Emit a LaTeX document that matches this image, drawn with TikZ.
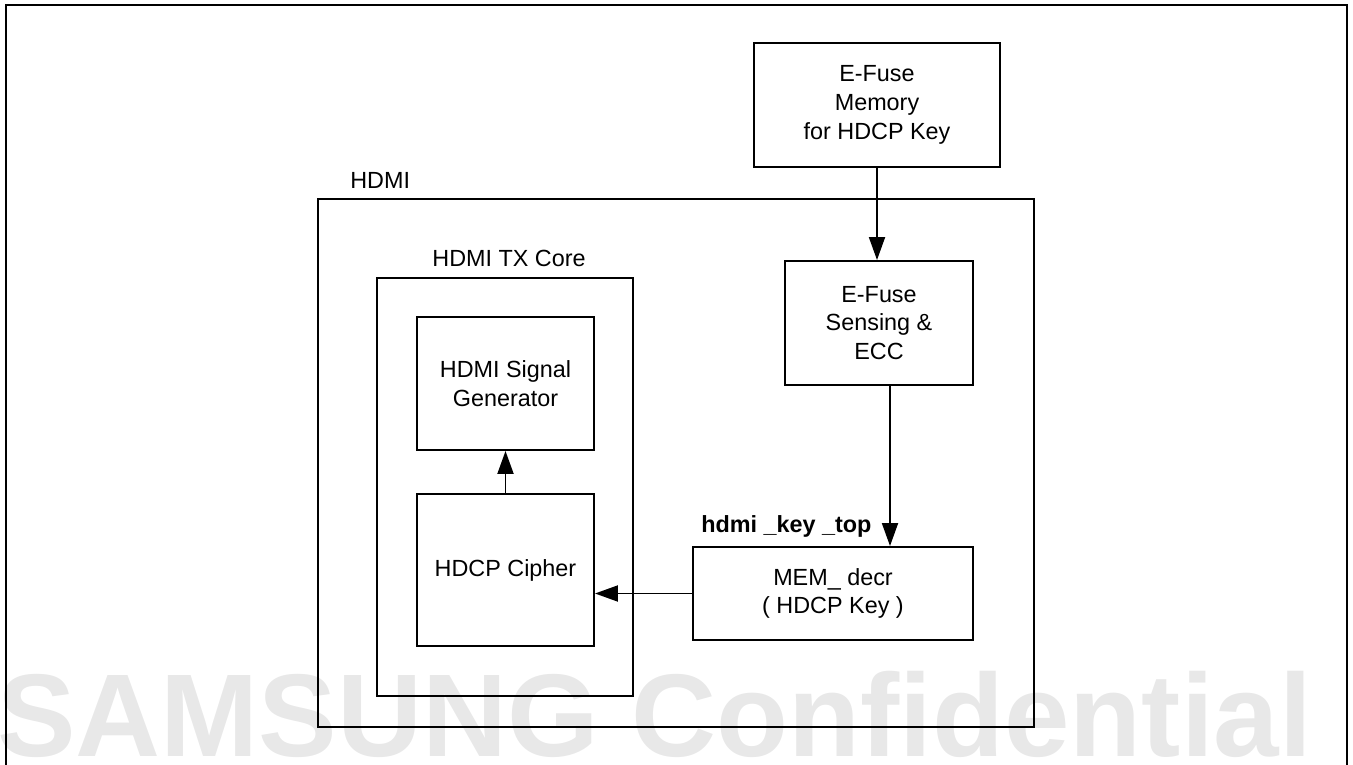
\documentclass[tikz,border=0pt]{standalone}
\usepackage{fontspec}
\setmainfont{Liberation Sans}
\usetikzlibrary{arrows.meta,positioning}
\definecolor{wmgray}{RGB}{232,232,232}

\begin{document}
\begin{tikzpicture}[
    x=0.2mm, y=-0.2mm,
    blk/.style={rectangle,draw=black,line width=1.1pt,align=center,inner sep=0pt,
      font=\fontsize{13.3}{16.4}\selectfont},
    lbl/.style={inner sep=0pt,font=\fontsize{13.3}{16.4}\selectfont},
    wmark/.style={inner sep=0pt,text=wmgray,font=\fontsize{67}{70}\selectfont\bfseries},
    frame/.style={line width=1.3pt},
    arrow/.style={-{Triangle[length=4.6mm,width=3.2mm]},line width=1.1pt}
  ]
    \clip (0,0) rectangle (1353,765);
    % watermark behind everything
    \node[wmark,anchor=base west] (wm) at (-3,756) {\smash{SAMSUNG Confidential}};
    \draw[frame] (6,780) -- (6,5) -- (1347,5) -- (1347,780);

    \node[blk,minimum width=49.2mm,minimum height=24.8mm] (efusemem) at (877,105)
      {E-Fuse\\Memory\\for HDCP Key};
    \node[blk,minimum width=143.2mm,minimum height=105.6mm] (hdmi) at (676,463) {};
    \node[lbl,anchor=base west] (hdmilbl) at (350,189) {HDMI};
    \node[blk,minimum width=37.6mm,minimum height=24.8mm] (sensing) at (879,323)
      {E-Fuse\\Sensing \&\\ECC};
    \node[blk,minimum width=51.2mm,minimum height=83.6mm] (txcore) at (505,487) {};
    \node[lbl,anchor=base] (txlbl) at (509,267) {HDMI TX Core};
    \node[blk,minimum width=35.4mm,minimum height=26.6mm] (gen) at (505.5,383.5)
      {HDMI Signal\\Generator};
    \node[blk,minimum width=35.4mm,minimum height=30.4mm] (cipher) at (505.5,570)
      {HDCP Cipher};
    \node[blk,minimum width=56mm,minimum height=18.6mm] (memdecr) at (833,593.5)
      {MEM\_ decr\\( HDCP Key )};
    \node[lbl,anchor=base west,font=\fontsize{13.3}{16.4}\selectfont\bfseries] (keytop)
      at (701,532) {hdmi \_key \_top};

    \draw[arrow] (efusemem.south) -- (efusemem.south |- sensing.north);
    \draw[arrow] ([xshift=2.2mm]sensing.south) -- ([xshift=2.2mm]sensing.south |- memdecr.north);
    \draw[arrow] (memdecr.west) -- (memdecr.west -| cipher.east);
    \draw[arrow] (cipher.north) -- (gen.south);
  \end{tikzpicture}
\end{document}
